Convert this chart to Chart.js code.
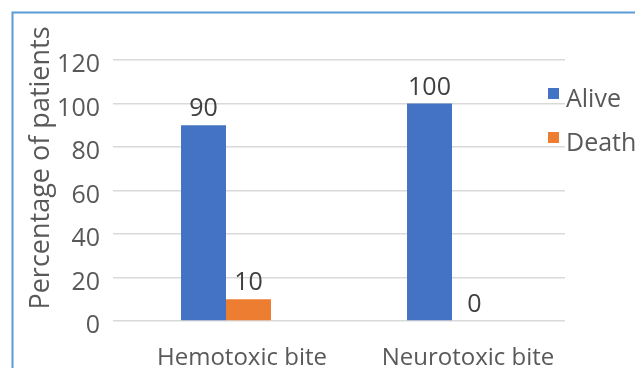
<!DOCTYPE html>
<html>
<head>
<meta charset="utf-8">
<style>
  html, body { margin: 0; padding: 0; background: #ffffff; }
  #wrap { position: relative; width: 635px; height: 368px; overflow: hidden; }
</style>
<script src="https://cdn.jsdelivr.net/npm/chart.js@4/dist/chart.umd.min.js"></script>
</head>
<body>
<div id="wrap"><canvas id="chart" width="635" height="368"></canvas></div>
<script>
// Outcome by bite type (percentage of patients)
const categories = ['Hemotoxic bite', 'Neurotoxic bite'];
const seriesNames = ['Alive', 'Death'];
const aliveValues = [90, 100];
const deathValues = [10, 0];
const axisTitle = 'Percentage of patients';

const FONT = "'Open Sans', 'Noto Sans', sans-serif";
const AXIS_COLOR = '#595959';
const LABEL_COLOR = '#404040';

// Value labels above every bar
const valueLabels = {
  id: 'valueLabels',
  afterDatasetsDraw(chart) {
    const ctx = chart.ctx;
    ctx.save();
    ctx.font = '25px ' + FONT;
    ctx.fillStyle = LABEL_COLOR;
    ctx.textAlign = 'center';
    ctx.textBaseline = 'alphabetic';
    chart.data.datasets.forEach((ds, i) => {
      chart.getDatasetMeta(i).data.forEach((bar, j) => {
        ctx.fillText(String(ds.data[j]), bar.x, bar.y - 9);
      });
    });
    ctx.restore();
  }
};

// Legend at the upper right, y-axis title, and the frame
const decorations = {
  id: 'decorations',
  afterDraw(chart) {
    const ctx = chart.ctx;
    ctx.save();
    // legend entries
    ctx.font = '25px ' + FONT;
    ctx.textAlign = 'left';
    ctx.textBaseline = 'alphabetic';
    chart.data.datasets.forEach((ds, i) => {
      const base = 107 + i * 44;
      ctx.fillStyle = ds.backgroundColor;
      ctx.fillRect(548, base - 19, 11, 11);
      ctx.fillStyle = AXIS_COLOR;
      ctx.fillText(ds.label, 566, base);
    });
    // y-axis title
    ctx.font = '27px ' + FONT;
    ctx.translate(41, 168);
    ctx.rotate(-Math.PI / 2);
    ctx.textAlign = 'center';
    ctx.textBaseline = 'middle';
    ctx.fillStyle = AXIS_COLOR;
    ctx.fillText(axisTitle, 0, 0);
    ctx.setTransform(1, 0, 0, 1, 0, 0);
    // frame
    ctx.strokeStyle = '#5b9bd5';
    ctx.lineWidth = 2;
    ctx.strokeRect(12.5, 12.5, 800, 800);
    ctx.restore();
  }
};

new Chart(document.getElementById('chart'), {
  type: 'bar',
  data: {
    labels: categories,
    datasets: [
      { label: seriesNames[0], data: aliveValues, backgroundColor: '#4472c4' },
      { label: seriesNames[1], data: deathValues, backgroundColor: '#ed7d31' }
    ]
  },
  options: {
    responsive: false,
    animation: false,
    events: [],
    layout: { padding: { top: 60, right: 70, left: 0, bottom: 0 } },
    datasets: { bar: { categoryPercentage: 0.398, barPercentage: 1.0 } },
    plugins: { legend: { display: false }, tooltip: { enabled: false } },
    scales: {
      x: {
        grid: { display: false },
        border: { display: false },
        ticks: { color: AXIS_COLOR, font: { family: FONT, size: 24 }, padding: 15, labelOffset: 16, maxRotation: 0 },
        afterFit(scale) { scale.height = 47; }
      },
      y: {
        min: 0, max: 120,
        grid: { color: '#d9d9d9', lineWidth: 1.5, drawTicks: false },
        border: { display: false },
        ticks: { stepSize: 20, color: AXIS_COLOR, font: { family: FONT, size: 25 }, padding: 13, labelOffset: 5 },
        afterFit(scale) { scale.width = 113; }
      }
    }
  },
  plugins: [valueLabels, decorations]
});
</script>
</body>
</html>
